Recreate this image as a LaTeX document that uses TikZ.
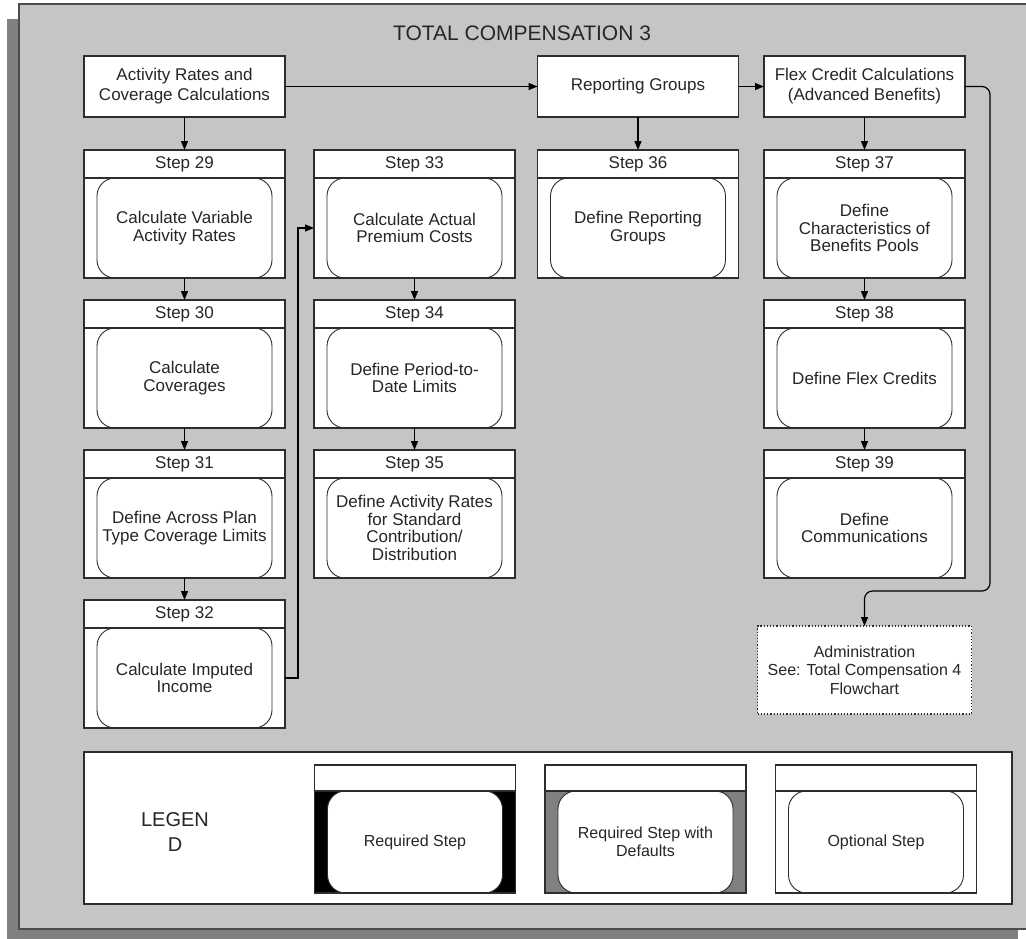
\documentclass[tikz,border=0pt]{standalone}
\usepackage{fontspec}
\setmainfont{Liberation Sans}
\usepackage{tikz}
\usetikzlibrary{positioning, arrows.meta}
\definecolor{PanelGray}{RGB}{197,197,197}
\definecolor{ShadowGray}{RGB}{128,128,128}
\definecolor{LineDark}{RGB}{45,45,45}
\definecolor{DefaultGray}{RGB}{128,128,128}

\begin{document}
\begin{tikzpicture}[
                x=1pt, y=-1pt,
                >={Triangle[length=9pt, width=7pt]},
                node distance=50pt,
                topbox/.style={rectangle, draw=LineDark, line width=1.2pt, fill=white, minimum width=201pt, minimum height=61pt, inner sep=0pt, outer sep=0pt, align=center, text=black!85, font=\fontsize{17}{20}\selectfont},
                stepbox/.style={rectangle, draw=LineDark, line width=1.2pt, fill=white, minimum width=201pt, minimum height=100pt, inner sep=0pt, outer sep=0pt, align=center, text=black!85, font=\fontsize{17}{17.5}\selectfont,
                    path picture={\draw[LineDark, line width=0.9pt, fill=white, rounded corners=18pt]
                        ([xshift=13pt]path picture bounding box.south west) rectangle ([xshift=-13pt]path picture bounding box.north east);}},
                stephead/.style={rectangle, draw=LineDark, line width=1.2pt, fill=white, minimum width=201pt, minimum height=28pt, inner sep=0pt, outer sep=0pt, text=black!85, font=\fontsize{17}{17.5}\selectfont},
                linkbox/.style={rectangle, draw=LineDark, dotted, line width=1.2pt, fill=white, minimum width=214pt, minimum height=88pt, inner sep=0pt, outer sep=0pt, align=center, text=black!85, font=\fontsize{16}{18.5}\selectfont},
                flow/.style={->, line width=1.2pt, draw=black}
            ]
                \useasboundingbox (0,0) rectangle (1026,938);
                \clip (0,0) rectangle (1026,938);

                % Panel and shadow
                \fill[ShadowGray] (7,19) rectangle (1018,944);
                \draw[LineDark!85, line width=1.5pt, fill=PanelGray] (19,4) rectangle (1030,929);
                \node[text=black!85, font=\fontsize{21}{25}\selectfont] (title) at (522,33) {TOTAL COMPENSATION 3};

                % Nodes
                \node[topbox] (act) at (184.5,86.5) {Activity Rates and\\Coverage Calculations};
                \node[topbox] (rep) at (638,86.5) {Reporting Groups};
                \node[topbox] (flex) at (864.5,86.5) {Flex Credit Calculations\\(Advanced Benefits)};

                \node[stepbox, below=61pt of act, label={[stephead, name=s29h]north:Step 29}] (s29) {Calculate Variable\\Activity Rates};
                \node[stepbox, below=of s29, label={[stephead, name=s30h]north:Step 30}] (s30) {Calculate\\Coverages};
                \node[stepbox, below=of s30, label={[stephead, name=s31h]north:Step 31}] (s31) {Define Across Plan\\Type Coverage Limits};
                \node[stepbox, below=of s31, label={[stephead, name=s32h]north:Step 32}] (s32) {Calculate Imputed\\Income};

                \node[stepbox, label={[stephead, name=s33h]north:Step 33}] (s33) at (414.5,228) {Calculate Actual\\Premium Costs};
                \node[stepbox, below=of s33, label={[stephead, name=s34h]north:Step 34}] (s34) {Define Period-to-\\Date Limits};
                \node[stepbox, below=of s34, label={[stephead, name=s35h]north:Step 35}] (s35) {Define Activity Rates\\for Standard\\Contribution/\\Distribution};

                \node[stepbox, below=61pt of rep, label={[stephead, name=s36h]north:Step 36}] (s36) {Define Reporting\\Groups};

                \node[stepbox, below=61pt of flex, label={[stephead, name=s37h]north:Step 37}] (s37) {Define\\Characteristics of\\Benefits Pools};
                \node[stepbox, below=of s37, label={[stephead, name=s38h]north:Step 38}] (s38) {Define Flex Credits};
                \node[stepbox, below=of s38, label={[stephead, name=s39h]north:Step 39}] (s39) {Define\\Communications};

                \node[linkbox, below=48pt of s39] (admin) {Administration\\See: Total Compensation 4\\Flowchart};

                % Path connections
                \draw[flow] (act) -- (rep);
                \draw[flow] (rep) -- (flex);
                \draw[flow] (act) -- (s29h);
                \draw[flow] (rep) -- (s36h);
                \draw[flow] (flex) -- (s37h);
                \draw[flow] (s29) -- (s30h);
                \draw[flow] (s30) -- (s31h);
                \draw[flow] (s31) -- (s32h);
                \draw[flow] (s33) -- (s34h);
                \draw[flow] (s34) -- (s35h);
                \draw[flow] (s37) -- (s38h);
                \draw[flow] (s38) -- (s39h);
                \draw[flow] (s32.east) -- ++(13,0) |- (s33.west);
                \draw[flow, rounded corners=8pt] (flex.east) -- ++(25,0) |- ([yshift=35pt]admin.north) -- (admin.north);

                % Legend
                \node[rectangle, draw=LineDark, line width=1.2pt, fill=white, minimum width=928pt, minimum height=152pt, outer sep=0pt] (legend) at (548,828) {};
                \node[align=center, text=black!85, font=\fontsize{20}{25}\selectfont] (legtitle) at (175,832) {LEGEN\\D};
                \node[stepbox, fill=black, minimum height=102pt, font=\fontsize{16}{18}\selectfont, label={[stephead, minimum height=26pt, name=reqh]north:}] (req) at (415,842) {Required Step};
                \node[stepbox, fill=DefaultGray, minimum height=102pt, font=\fontsize{16}{18}\selectfont, label={[stephead, minimum height=26pt, name=defh]north:}] (def) at (645.5,842) {Required Step with\\Defaults};
                \node[stepbox, minimum height=102pt, font=\fontsize{16}{18}\selectfont, label={[stephead, minimum height=26pt, name=opth]north:}] (opt) at (876,842) {Optional Step};
            \end{tikzpicture}
\end{document}
